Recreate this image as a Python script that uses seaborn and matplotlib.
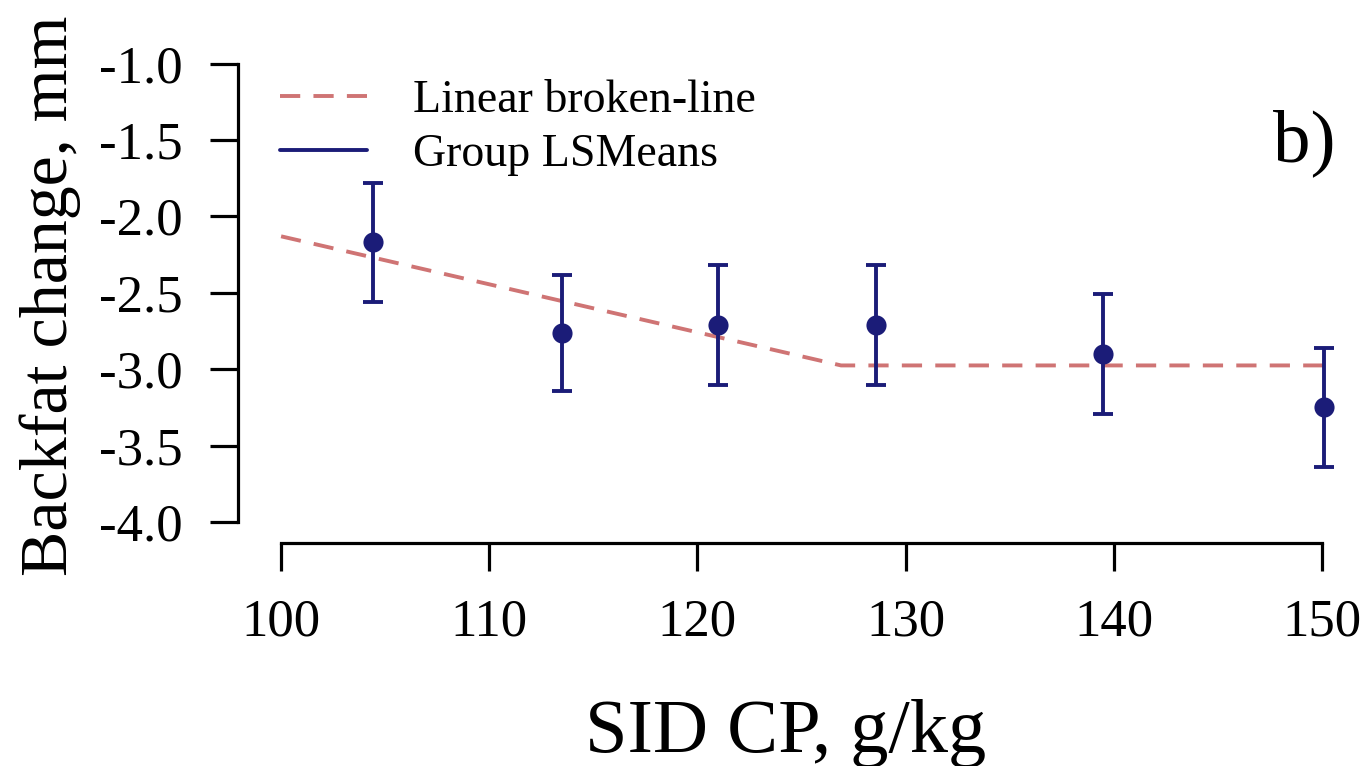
import matplotlib
matplotlib.use('Agg')
import numpy as np
import pandas as pd
import seaborn as sns
import matplotlib.pyplot as plt
from matplotlib.lines import Line2D

# group LSMeans with SE
cp_levels = [104.4, 113.5, 121.0, 128.6, 139.5, 150.1]
backfat_mean = [-2.17, -2.76, -2.71, -2.71, -2.90, -3.25]
backfat_se = [0.39, 0.38, 0.39, 0.39, 0.39, 0.39]

# linear broken-line fit
fit_x = [100.0, 126.9, 150.1]
fit_y = [-2.13, -2.975, -2.975]

y_ticks = [-1.0, -1.5, -2.0, -2.5, -3.0, -3.5, -4.0]
x_ticks = [100, 110, 120, 130, 140, 150]

navy = '#1b1c78'
red = '#cf7474'


def main():
    sns.set_style('white')
    plt.rcParams['font.family'] = ['Liberation Serif', 'DejaVu Serif']
    plt.rcParams['axes.unicode_minus'] = False
    plt.rcParams['text.color'] = 'black'

    pts = pd.DataFrame({'cp': cp_levels, 'bf': backfat_mean, 'se': backfat_se})
    fit = pd.DataFrame({'cp': fit_x, 'bf': fit_y})

    fig = plt.figure(figsize=(13.65, 7.66), dpi=100, facecolor='white')
    ax = fig.add_axes([238 / 1365, 1 - 543 / 766, 1127 / 1365, 500 / 766])

    sns.lineplot(data=fit, x='cp', y='bf', ax=ax, color=red, lw=2.8,
                 dashes=False, zorder=2)
    ax.lines[-1].set_dashes([5.2, 3.4])
    ax.errorbar(pts['cp'], pts['bf'], yerr=pts['se'], fmt='none', ecolor=navy,
                elinewidth=2.8, capsize=7.5, capthick=2.8, zorder=3)
    sns.scatterplot(data=pts, x='cp', y='bf', ax=ax, color=navy, s=210,
                    edgecolor=navy, linewidth=0, zorder=4)

    ax.set_xlim(97.93, 152.07)
    ax.set_ylim(-4.137, -0.865)
    ax.set_yticks(y_ticks)
    ax.set_yticklabels(['%.1f' % v for v in y_ticks])
    ax.set_xticks(x_ticks)
    ax.set_xticklabels([str(v) for v in x_ticks])

    for s in ['top', 'right']:
        ax.spines[s].set_visible(False)
    ax.spines['left'].set_bounds(-4.0, -1.0)
    ax.spines['bottom'].set_bounds(100, 150)
    for s in ['left', 'bottom']:
        ax.spines[s].set_linewidth(2.3)
        ax.spines[s].set_color('black')
    ax.tick_params(axis='both', direction='out', length=20, width=2.3,
                   colors='black', labelsize=38, left=True, bottom=True)
    ax.tick_params(axis='y', pad=20)
    ax.tick_params(axis='x', pad=20)

    ax.set_xlabel('')
    ax.set_ylabel('')
    fig.text(786 / 1365, 1 - 733 / 766, 'SID CP, g/kg', fontsize=55,
             ha='center', va='center')
    fig.text(50 / 1365, 1 - 296 / 766, 'Backfat change, mm', fontsize=49,
             ha='center', va='center', rotation=90)
    fig.text(1304 / 1365, 1 - 143 / 766, 'b)', fontsize=54,
             ha='center', va='center')

    handles = [Line2D([], [], color=red, lw=2.8, dashes=[5.2, 3.4]),
               Line2D([], [], color=navy, lw=2.8)]
    ax.legend(handles, ['Linear broken-line', 'Group LSMeans'], frameon=False,
              fontsize=33, loc='upper left', bbox_to_anchor=(280 / 1365, 1 - 80 / 766),
              bbox_transform=fig.transFigure, handlelength=1.9, handletextpad=1.0,
              labelspacing=0.25, borderaxespad=0, borderpad=0)

    fig.savefig('out.png', dpi=100, facecolor='white')


if __name__ == '__main__':
    main()
